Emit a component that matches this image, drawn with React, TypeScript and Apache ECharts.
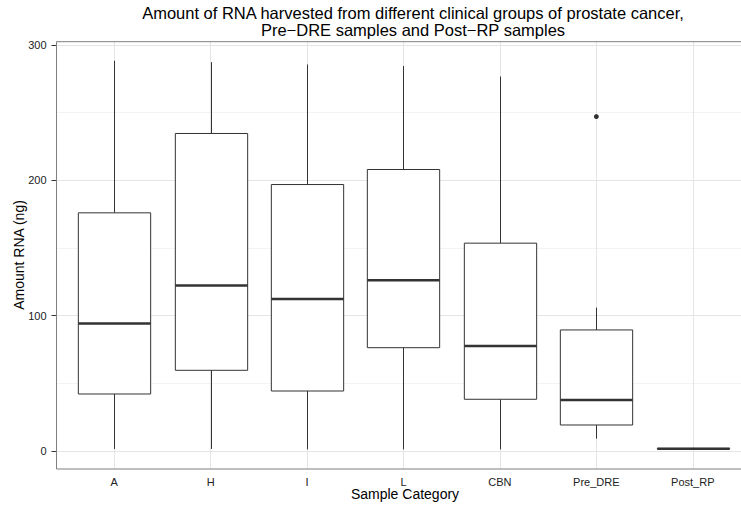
import React, { useEffect, useRef } from "react";
import * as echarts from "echarts";

const categories = ["A", "H", "I", "L", "CBN", "Pre_DRE", "Post_RP"];
// [min(whisker), Q1, median, Q3, max(whisker)]
const boxStats: number[][] = [
  [1.5, 42.1, 94.2, 175.9, 288.2],
  [1.5, 59.6, 122.2, 234.5, 287.2],
  [1.2, 44.3, 112.3, 196.8, 285.5],
  [1.2, 76.3, 126.1, 207.9, 284.4],
  [1.2, 38.2, 77.6, 153.5, 276.6],
  [9.1, 19.2, 37.7, 89.4, 105.9],
  [1.4, 1.5, 1.7, 1.9, 2.0],
];
const outliers: [string, number][] = [["Pre_DRE", 247]];
const yTicks = [0, 100, 200, 300];
const titleLines = [
  "Amount of RNA harvested from different clinical groups of prostate cancer,",
  "Pre\u2212DRE samples and Post\u2212RP samples",
];

const FONT = "'Liberation Sans', Arial, Helvetica, sans-serif";

export default function App() {
  const ref = useRef<HTMLDivElement>(null);
  useEffect(() => {
    document.body.style.margin = "0";
    const chart = echarts.init(ref.current!, null, { renderer: "svg" });
    const panel = { x: 56.5, y: 41.7, w: 696, h: 427.3 };
    const yMinB = -13.3;
    const yMaxB = 302.3;
    const option: any = {
      animation: false,
      backgroundColor: "#ffffff",
      grid: [
        { left: 56.5, top: 45, width: 696, height: 406 },
        { left: 65.95, top: panel.y, width: 676.9, height: panel.h },
      ],
      xAxis: [
        { type: "value", gridIndex: 0, show: false, min: 0, max: 1 },
        {
          type: "category",
          gridIndex: 1,
          data: categories,
          boundaryGap: true,
          axisLine: { show: false },
          axisTick: { show: true, alignWithLabel: true, length: 4, lineStyle: { color: "#333333" } },
          axisLabel: { color: "#222222", fontSize: 11, fontFamily: FONT, margin: 7 },
          splitLine: { show: false },
        },
      ],
      yAxis: [
        {
          type: "value",
          gridIndex: 0,
          min: yTicks[0],
          max: yTicks[yTicks.length - 1],
          interval: 100,
          axisLine: { show: false },
          axisTick: { show: true, length: 5, lineStyle: { color: "#333333" } },
          axisLabel: { color: "#222222", fontSize: 11, fontFamily: FONT, margin: 10 },
          splitLine: { show: true, lineStyle: { color: "#e5e5e5", width: 1 } },
          minorTick: { show: false, splitNumber: 2 },
          minorSplitLine: { show: true, lineStyle: { color: "#f3f3f3", width: 1 } },
        },
        {
          type: "value",
          gridIndex: 1,
          min: yMinB,
          max: yMaxB,
          show: false,
          splitLine: { show: false },
        },
      ],
      series: [
        {
          type: "line",
          xAxisIndex: 1,
          yAxisIndex: 1,
          data: [],
          z: 1,
          silent: true,
          markLine: {
            z: 1,
            silent: true,
            symbol: ["none", "none"],
            label: { show: false },
            lineStyle: { color: "#e5e5e5", width: 1, type: "solid" },
            data: categories.map((c) => ({ xAxis: c })),
          },
        },
        {
          type: "custom",
          xAxisIndex: 1,
          yAxisIndex: 1,
          z: 3,
          data: boxStats.map((s, i) => [i, ...s]),
          encode: { x: 0, y: [1, 2, 3, 4, 5] },
          renderItem: (params: any, api: any) => {
            const idx = api.value(0);
            const x = Math.round(api.coord([idx, 0])[0]) + 0.5;
            const band = api.size([1, 0])[0];
            const hw = (band * 0.75) / 2;
            const py = (v: number) => api.coord([idx, v])[1];
            const pMin = py(api.value(1));
            const pQ1 = py(api.value(2));
            const pMed = py(api.value(3));
            const pQ3 = py(api.value(4));
            const pMax = py(api.value(5));
            const st = { stroke: "#333333", lineWidth: 1 };
            return {
              type: "group",
              children: [
                { type: "line", shape: { x1: x, y1: pMax, x2: x, y2: pQ3 }, style: st },
                { type: "line", shape: { x1: x, y1: pQ1, x2: x, y2: pMin }, style: st },
                {
                  type: "rect",
                  shape: { x: x - hw, y: pQ3, width: 2 * hw, height: pQ1 - pQ3 },
                  style: { fill: "#ffffff", stroke: "#333333", lineWidth: 1 },
                },
                {
                  type: "line",
                  shape: { x1: x - hw, y1: pMed, x2: x + hw, y2: pMed },
                  style: { stroke: "#333333", lineWidth: 2.4 },
                },
              ],
            };
          },
        },
        {
          type: "scatter",
          xAxisIndex: 1,
          yAxisIndex: 1,
          z: 4,
          symbolSize: 5,
          itemStyle: { color: "#000000" },
          data: outliers,
        },
      ],
      graphic: [
        {
          type: "rect",
          z: 100,
          silent: true,
          shape: { x: panel.x, y: panel.y, width: panel.w, height: panel.h },
          style: { fill: "none", stroke: "#7f7f7f", lineWidth: 1 },
        },
        ...titleLines.map((t, i) => ({
          type: "text",
          x: 413,
          y: 5 + i * 17,
          style: {
            text: t,
            align: "center",
            verticalAlign: "top",
            fontSize: 16.5,
            lineHeight: 16.5,
            fontFamily: FONT,
            fill: "#000000",
          },
        })),
        {
          type: "text",
          x: 405,
          y: 494,
          style: {
            text: "Sample Category",
            align: "center",
            verticalAlign: "middle",
            fontSize: 14,
            fontFamily: FONT,
            fill: "#000000",
          },
        },
        {
          type: "text",
          x: 18.5,
          y: 255,
          rotation: Math.PI / 2,
          style: {
            text: "Amount RNA (ng)",
            align: "center",
            verticalAlign: "middle",
            fontSize: 14,
            fontFamily: FONT,
            fill: "#000000",
          },
        },
      ],
    };
    chart.setOption(option);
    return () => chart.dispose();
  }, []);
  return (
    <div
      ref={ref}
      style={{ position: "fixed", left: 0, top: 0, width: 741, height: 506 }}
    />
  );
}
